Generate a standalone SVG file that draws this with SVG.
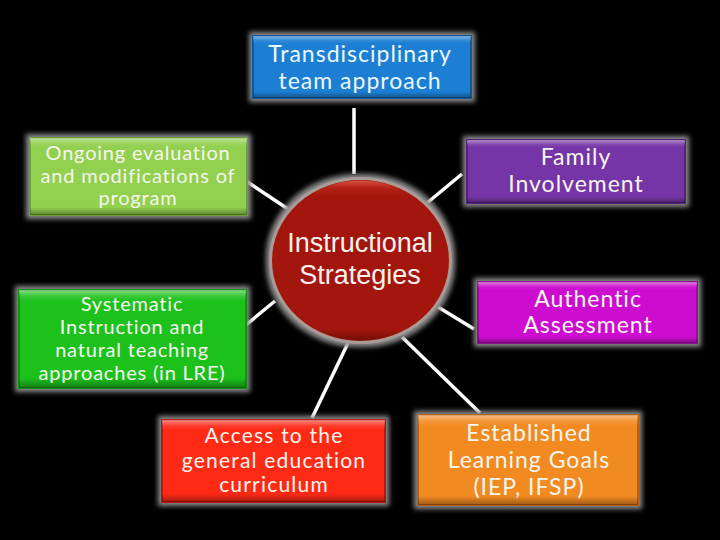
<svg xmlns="http://www.w3.org/2000/svg" width="720" height="540" viewBox="0 0 720 540">
  <defs>
    <filter id="glow" x="-15%" y="-30%" width="130%" height="160%">
      <feMorphology in="SourceAlpha" operator="dilate" radius="3" result="d"/>
      <feGaussianBlur in="d" stdDeviation="2.5" result="b"/>
      <feFlood flood-color="#8c8c8c"/>
      <feComposite in2="b" operator="in" result="g"/>
      <feMerge><feMergeNode in="g"/><feMergeNode in="SourceGraphic"/></feMerge>
    </filter>
    <linearGradient id="bevel" x1="0" y1="0" x2="0" y2="1">
      <stop offset="0" stop-color="#ffffff" stop-opacity="0.45"/>
      <stop offset="0.07" stop-color="#ffffff" stop-opacity="0.1"/>
      <stop offset="0.12" stop-color="#ffffff" stop-opacity="0"/>
      <stop offset="0.9" stop-color="#000000" stop-opacity="0"/>
      <stop offset="1" stop-color="#000000" stop-opacity="0.35"/>
    </linearGradient>
    <linearGradient id="cbevel" x1="0" y1="0" x2="0" y2="1">
      <stop offset="0" stop-color="#ff8a70" stop-opacity="0.55"/>
      <stop offset="0.05" stop-color="#ff6040" stop-opacity="0.15"/>
      <stop offset="0.1" stop-color="#ff6040" stop-opacity="0"/>
      <stop offset="0.93" stop-color="#000000" stop-opacity="0"/>
      <stop offset="1" stop-color="#000000" stop-opacity="0.3"/>
    </linearGradient>
  </defs>
  <style>
    .box { stroke-width: 2; }
    .bev { fill: url(#bevel); stroke: none; }
    .lbl { font-family: Lato, "Open Sans", "Liberation Sans", sans-serif; font-weight: 400; fill: #f6f6ee; text-anchor: middle; }
    .big { font-size: 23px; letter-spacing: 1px; }
    .mid { font-size: 21px; letter-spacing: 1.2px; }
    .sml { font-size: 20px; letter-spacing: 0.8px; }
    .ctr { font-family: "Liberation Sans", Arial, sans-serif; fill: #f6f0ee; text-anchor: middle; font-size: 27px; }
    .conn line { stroke: #ffffff; stroke-width: 3.5; stroke-linecap: butt; }
  </style>
  <rect x="0" y="0" width="720" height="540" fill="#000000"/>

  <g id="connectors" class="conn">
    <line x1="354" y1="108" x2="354" y2="174"/>
    <line x1="246" y1="181" x2="288" y2="209"/>
    <line x1="462" y1="174" x2="427" y2="203"/>
    <line x1="275" y1="301" x2="241" y2="329"/>
    <line x1="438" y1="307" x2="474" y2="329"/>
    <line x1="348" y1="343" x2="312" y2="418"/>
    <line x1="402" y1="337" x2="480" y2="413"/>
  </g>

  <g id="center">
    <ellipse cx="360.5" cy="260.5" rx="90" ry="82" fill="#a3190a" stroke="#a89a96" stroke-width="3" filter="url(#glow)"/>
    <ellipse cx="360.5" cy="260.5" rx="88" ry="80" fill="url(#cbevel)"/>
    <text class="ctr" x="360" y="252">Instructional</text>
    <text class="ctr" x="360" y="284">Strategies</text>
  </g>

  <g id="transdisciplinary">
    <rect class="box" x="253" y="36" width="218" height="62" fill="#1c7fd3" stroke="#0e5a9e" filter="url(#glow)"/>
    <rect class="bev" x="253" y="36" width="218" height="62"/>
    <text class="lbl big" x="360" y="62" style="fill:#eaf8ff">Transdisciplinary</text>
    <text class="lbl big" x="360" y="89" style="fill:#eaf8ff">team approach</text>
  </g>

  <g id="ongoing">
    <rect class="box" x="30" y="138" width="217" height="77" fill="#92d050" stroke="#6ea235" filter="url(#glow)"/>
    <rect class="bev" x="30" y="138" width="217" height="77"/>
    <text class="lbl sml" x="138" y="160">Ongoing evaluation</text>
    <text class="lbl sml" x="138" y="183">and modifications of</text>
    <text class="lbl sml" x="138" y="205">program</text>
  </g>

  <g id="family">
    <rect class="box" x="467" y="140" width="218" height="63" fill="#7434a6" stroke="#55207e" filter="url(#glow)"/>
    <rect class="bev" x="467" y="140" width="218" height="63"/>
    <text class="lbl big" x="576" y="165">Family</text>
    <text class="lbl big" x="576" y="192">Involvement</text>
  </g>

  <g id="systematic">
    <rect class="box" x="19" y="290" width="227" height="98" fill="#1ec11e" stroke="#139013" filter="url(#glow)"/>
    <rect class="bev" x="19" y="290" width="227" height="98"/>
    <text class="lbl sml" x="132" y="311">Systematic</text>
    <text class="lbl sml" x="132" y="334">Instruction and</text>
    <text class="lbl sml" x="132" y="357">natural teaching</text>
    <text class="lbl sml" x="132" y="380">approaches (in LRE)</text>
  </g>

  <g id="authentic">
    <rect class="box" x="478" y="282" width="219" height="61" fill="#cc10d0" stroke="#960a99" filter="url(#glow)"/>
    <rect class="bev" x="478" y="282" width="219" height="61"/>
    <text class="lbl big" x="588" y="307">Authentic</text>
    <text class="lbl big" x="588" y="333">Assessment</text>
  </g>

  <g id="access">
    <rect class="box" x="162" y="420" width="223" height="82" fill="#ff2a12" stroke="#c0180a" filter="url(#glow)"/>
    <rect class="bev" x="162" y="420" width="223" height="82"/>
    <text class="lbl mid" x="274" y="443">Access to the</text>
    <text class="lbl mid" x="274" y="468">general education</text>
    <text class="lbl mid" x="274" y="492">curriculum</text>
  </g>

  <g id="established">
    <rect class="box" x="418" y="415" width="220" height="90" fill="#f28a24" stroke="#b86212" filter="url(#glow)"/>
    <rect class="bev" x="418" y="415" width="220" height="90"/>
    <text class="lbl big" x="529" y="441">Established</text>
    <text class="lbl big" x="529" y="468">Learning Goals</text>
    <text class="lbl big" x="529" y="495">(IEP, IFSP)</text>
  </g>
</svg>
